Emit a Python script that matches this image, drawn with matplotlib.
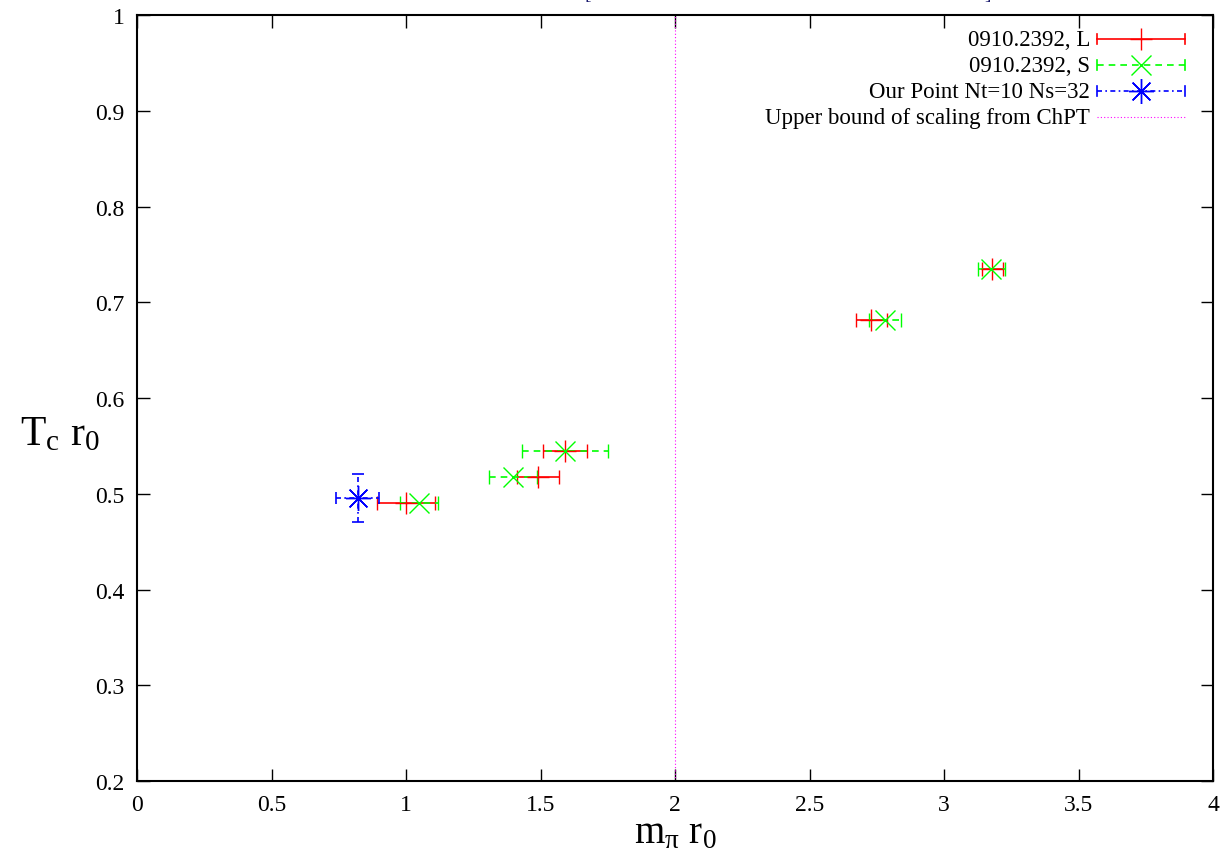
import matplotlib.pyplot as plt
from matplotlib.lines import Line2D

plt.rcParams['font.family'] = ['Liberation Serif', 'DejaVu Serif']
plt.rcParams['mathtext.fontset'] = 'custom'
plt.rcParams['mathtext.rm'] = 'Liberation Serif'
plt.rcParams['mathtext.it'] = 'Liberation Serif'

# 0910.2392, L
l_x = [1.00, 1.49, 1.59, 2.73, 3.18]
l_y = [0.490, 0.517, 0.545, 0.682, 0.735]
l_xerr = [0.108, 0.078, 0.082, 0.058, 0.040]

# 0910.2392, S
s_x = [1.048, 1.398, 1.59, 2.781, 3.175]
s_y = [0.490, 0.517, 0.545, 0.681, 0.735]
s_xerr = [0.070, 0.090, 0.160, 0.060, 0.050]

# our point Nt=10 Ns=32
our_x = [0.82]
our_y = [0.496]
our_xerr = [0.08]
our_yerr = [0.025]

chpt_bound = 2.0

labels = ['0910.2392, L', '0910.2392, S', 'Our Point Nt=10 Ns=32',
          'Upper bound of scaling from ChPT']

RED = '#ff0000'
GREEN = '#00ff00'
BLUE = '#0000ff'
MAGENTA = '#ff00ff'
star = (8, 2, 0)

fig = plt.figure(figsize=(12.3, 8.62), dpi=100)
ax = fig.add_axes([0.1114, 0.0928, 0.8748, 0.8886])

ax.axvline(chpt_bound, color=MAGENTA, lw=0.8, ls=(0, (1, 2)))

ax.errorbar(l_x, l_y, xerr=l_xerr, fmt='+', color=RED, ms=16, mew=1.0,
            elinewidth=1.2, capsize=5, capthick=1.2)
ax.errorbar(s_x, s_y, xerr=s_xerr, fmt='x', color=GREEN, ms=14, mew=1.0,
            elinewidth=1.2, capsize=5, capthick=1.2, ls='none')
for c in ax.containers[-1][2]:
    c.set_linestyle((0, (4, 3)))
ax.errorbar(our_x, our_y, xerr=our_xerr, yerr=our_yerr, fmt='none',
            ecolor=BLUE, elinewidth=1.2, capsize=4, capthick=1.2)
for c in ax.containers[-1][2]:
    c.set_linestyle((0, (3, 2, 1, 2)))
ax.plot(our_x, our_y, marker=star, color=BLUE, ms=18, mew=1.0, ls='none')

ax.set_xlim(0, 4)
ax.set_ylim(0.2, 1.0)
ax.set_xticks([0, 0.5, 1, 1.5, 2, 2.5, 3, 3.5, 4])
ax.set_xticklabels(['0', '0.5', '1', '1.5', '2', '2.5', '3', '3.5', '4'])
ax.set_yticks([0.2, 0.3, 0.4, 0.5, 0.6, 0.7, 0.8, 0.9, 1.0])
ax.set_yticklabels(['0.2', '0.3', '0.4', '0.5', '0.6', '0.7', '0.8', '0.9', '1'])
ax.tick_params(direction='in', length=9, width=1.0, top=True, right=True,
               labelsize=17, pad=9)
for sp in ax.spines.values():
    sp.set_linewidth(1.5)

ax.set_xlabel(r'm$_\pi$ r$_0$', fontsize=28, labelpad=0)
ax.set_ylabel(r'T$_c$ r$_0$', fontsize=30, rotation=0, ha='center', va='center')
ax.yaxis.set_label_coords(-0.0716, 0.453)

# key, gnuplot style: text right-aligned, sample to its right
tx, x0, x1 = 0.8857, 0.8922, 0.9740
rows = [0.9687, 0.9347, 0.9008, 0.8668]
for lab, yy in zip(labels, rows):
    ax.text(tx, yy, lab, transform=ax.transAxes, ha='right', va='center',
            fontsize=16.5)
xm = (x0 + x1) / 2
ax.add_line(Line2D([x0, x1], [rows[0]] * 2, transform=ax.transAxes, color=RED, lw=1.2))
ax.add_line(Line2D([x0, x1], [rows[1]] * 2, transform=ax.transAxes, color=GREEN, lw=1.2,
                   ls=(0, (4, 3))))
ax.add_line(Line2D([x0, x1], [rows[2]] * 2, transform=ax.transAxes, color=BLUE, lw=1.2,
                   ls=(0, (3, 2, 1, 2))))
ax.add_line(Line2D([x0, x1], [rows[3]] * 2, transform=ax.transAxes, color=MAGENTA, lw=0.8,
                   ls=(0, (1, 2))))
for yy, col in zip(rows[:3], [RED, GREEN, BLUE]):
    for xe in (x0, x1):
        ax.add_line(Line2D([xe, xe], [yy - 0.007, yy + 0.007], transform=ax.transAxes,
                           color=col, lw=1.2))
ax.plot([xm], [rows[0]], transform=ax.transAxes, marker='+', color=RED, ms=16, mew=1.0)
ax.plot([xm], [rows[1]], transform=ax.transAxes, marker='x', color=GREEN, ms=14, mew=1.0)
ax.plot([xm], [rows[2]], transform=ax.transAxes, marker=star, color=BLUE, ms=18, mew=1.0)

# title clipped off the top edge
fig.text(0.478, 1.006, '[', color='#1a1a6e', fontsize=14, ha='center', va='center')
fig.text(0.803, 1.006, ']', color='#1a1a6e', fontsize=14, ha='center', va='center')

fig.savefig('out.png', dpi=100)
